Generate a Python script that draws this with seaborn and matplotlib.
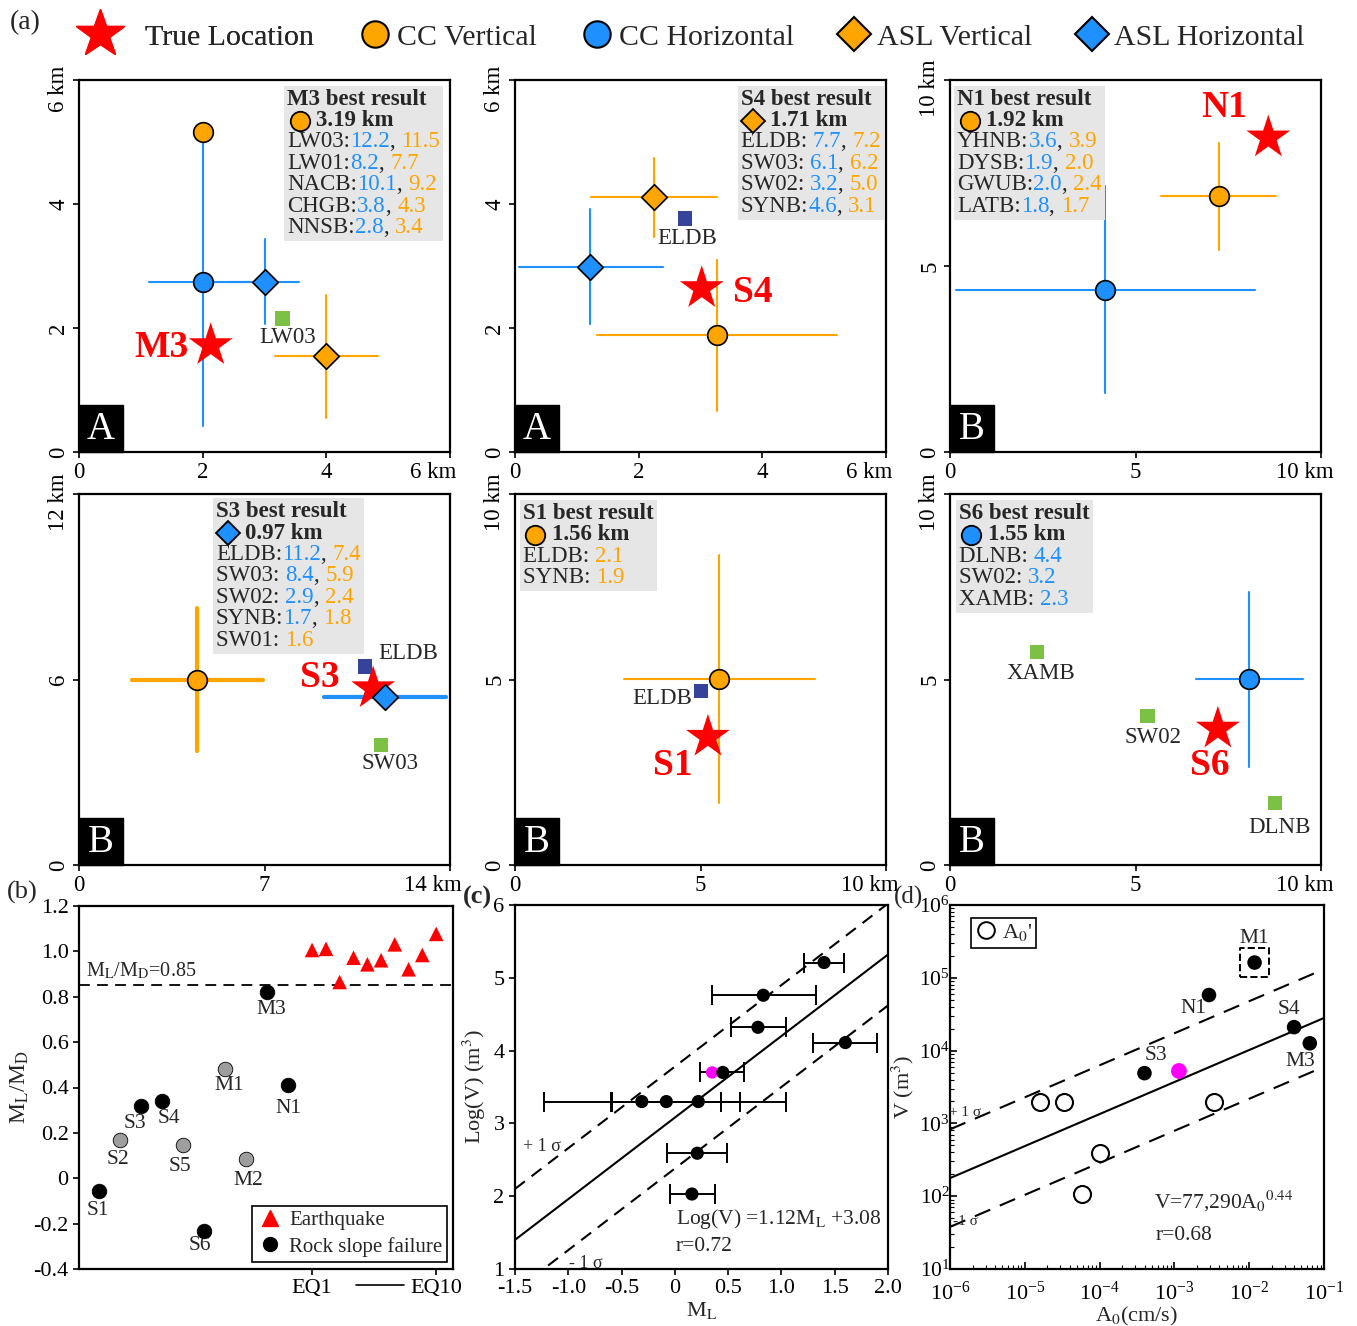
import numpy as np
import matplotlib
matplotlib.use('Agg')
import matplotlib.pyplot as plt
import matplotlib.transforms as mtransforms
import seaborn as sns
from matplotlib.lines import Line2D
from matplotlib.patches import Rectangle
from matplotlib.offsetbox import TextArea, HPacker, VPacker, DrawingArea, AnchoredOffsetbox

# ---------------- data ----------------
ORANGE = '#ffa500'
BLUE = '#1e90ff'
RED = '#ff0000'
GREEN = '#7cc143'
NAVY = '#35449a'

METHODS = ['CC Vertical', 'CC Horizontal', 'ASL Vertical', 'ASL Horizontal']

# M3 panel (km)
m3_method = ['CC Vertical', 'CC Horizontal', 'ASL Vertical', 'ASL Horizontal']
m3_x = [2.0, 2.0, 4.0, 3.0]
m3_y = [5.16, 2.75, 1.55, 2.75]
m3_xlo = [np.nan, 1.13, 3.17, 2.45]
m3_xhi = [np.nan, 2.87, 4.83, 3.56]
m3_ylo = [np.nan, 0.42, 0.55, 2.06]
m3_yhi = [np.nan, 5.16, 2.54, 3.44]
m3_true = (2.13, 1.72)
m3_stations = [('LW03', 3.29, 2.15, 'g')]
m3_info = [('LW03:', '12.2', '11.5'), ('LW01:', '8.2', '7.7'), ('NACB:', '10.1', '9.2'),
           ('CHGB:', '3.8', '4.3'), ('NNSB:', '2.8', '3.4')]

# S4 panel
s4_method = ['CC Vertical', 'ASL Vertical', 'ASL Horizontal']
s4_x = [3.26, 2.24, 1.22]
s4_y = [1.88, 4.11, 2.99]
s4_xlo = [1.32, 1.23, 0.07]
s4_xhi = [5.20, 3.26, 2.39]
s4_ylo = [0.66, 3.47, 2.06]
s4_yhi = [3.10, 4.74, 3.92]
s4_true = (3.02, 2.64)
s4_stations = [('ELDB', 2.75, 3.77, 'b')]
s4_info = [('ELDB: ', '7.7', '7.2'), ('SW03: ', '6.1', '6.2'), ('SW02: ', '3.2', '5.0'),
           ('SYNB:', '4.6', '3.1')]

# N1 panel
n1_method = ['CC Vertical', 'CC Horizontal']
n1_x = [7.25, 4.19]
n1_y = [6.87, 4.36]
n1_xlo = [5.69, 0.16]
n1_xhi = [8.80, 8.22]
n1_ylo = [5.42, 1.59]
n1_yhi = [8.31, 7.14]
n1_true = (8.58, 8.45)
n1_stations = []
n1_info = [('YHNB:', '3.6', '3.9'), ('DYSB:', '1.9', '2.0'), ('GWUB:', '2.0', '2.4'),
           ('LATB:', '1.8', '1.7')]

# S3 panel
s3_method = ['CC Vertical', 'ASL Horizontal']
s3_x = [4.46, 11.56]
s3_y = [6.00, 5.44]
s3_xlo = [1.99, 9.25]
s3_xhi = [6.95, 13.86]
s3_ylo = [3.69, np.nan]
s3_yhi = [8.32, np.nan]
s3_true = (11.1, 5.71)
s3_stations = [('ELDB', 10.8, 6.42, 'b'), ('SW03', 11.4, 3.88, 'g')]
s3_info = [('ELDB:', '11.2', '7.4'), ('SW03: ', '8.4', '5.9'), ('SW02: ', '2.9', '2.4'),
           ('SYNB:', '1.7', '1.8'), ('SW01: ', None, '1.6')]

# S1 panel
s1_method = ['CC Vertical']
s1_x = [5.50]
s1_y = [5.01]
s1_xlo = [2.94]
s1_xhi = [8.09]
s1_ylo = [1.67]
s1_yhi = [8.36]
s1_true = (5.2, 3.45)
s1_stations = [('ELDB', 5.01, 4.69, 'b')]
s1_info = [('ELDB: ', None, '2.1'), ('SYNB: ', None, '1.9')]

# S6 panel
s6_method = ['CC Horizontal']
s6_x = [8.06]
s6_y = [5.01]
s6_xlo = [6.63]
s6_xhi = [9.51]
s6_ylo = [2.64]
s6_yhi = [7.36]
s6_true = (7.22, 3.67)
s6_stations = [('XAMB', 2.35, 5.74, 'g'), ('SW02', 5.33, 4.02, 'g'), ('DLNB', 8.76, 1.67, 'g')]
s6_info = [('DLNB: ', '4.4', None), ('SW02: ', '3.2', None), ('XAMB: ', '2.3', None)]

# (b) ML/MD ratio
b_names = ['S1', 'S2', 'S3', 'S4', 'S5', 'S6', 'M1', 'M2', 'M3', 'N1']
b_x = [1, 2, 3, 4, 5, 6, 7, 8, 9, 10]
b_ratio = [-0.055, 0.167, 0.32, 0.34, 0.145, -0.233, 0.48, 0.086, 0.823, 0.41]
b_gray = [False, True, False, False, True, False, True, True, False, False]
eq_x = [11.13, 11.79, 12.44, 13.10, 13.76, 14.41, 15.06, 15.72, 16.37, 17.03]
eq_ratio = [1.006, 1.011, 0.865, 0.972, 0.943, 0.961, 1.031, 0.921, 0.984, 1.077]
b_threshold = 0.85

# (c) ML vs log volume
c_ml = [1.40, 0.83, 0.78, 1.60, 0.45, -0.31, -0.08, 0.22, 0.21, 0.16]
c_logv = [5.21, 4.76, 4.32, 4.11, 3.70, 3.30, 3.30, 3.30, 2.59, 2.03]
c_ml_lo = [1.21, 0.35, 0.53, 1.30, 0.24, -1.225, -0.594, -0.60, -0.07, -0.05]
c_ml_hi = [1.59, 1.32, 1.04, 1.90, 0.65, 0.609, 0.431, 1.04, 0.49, 0.375]
c_new = (0.35, 3.70)
c_slope, c_icpt, c_sigma = 1.12, 3.08, 0.70
c_range = [-1.5, 2.0]

# (d) A0 vs volume
d_names = ['M1', 'N1', 'S4', 'M3', 'S3']
d_a0 = [0.0118, 2.9e-3, 0.0398, 0.0646, 3.98e-4]
d_v = [1.62e5, 5.8e4, 2.1e4, 1.26e4, 4.9e3]
d_a0_open = [1.62e-5, 3.3e-5, 3.4e-3, 1.0e-4, 5.9e-5]
d_v_open = [1950, 1950, 1950, 390, 107]
d_new = (1.15e-3, 5.25e3)
d_coef, d_exp, d_sigma = 77290, 0.44, 0.67
d_range = [1e-6, 1e-1]

# ---------------- style ----------------
sns.set_theme(style='ticks')
plt.rcParams['font.family'] = ['Liberation Serif', 'DejaVu Serif']
plt.rcParams['mathtext.fontset'] = 'stix'
plt.rcParams['axes.unicode_minus'] = False
plt.rcParams['axes.linewidth'] = 1.6
plt.rcParams['axes.edgecolor'] = 'black'
plt.rcParams['xtick.color'] = 'black'
plt.rcParams['ytick.color'] = 'black'

STYLE = {'CC Vertical': ('o', ORANGE), 'CC Horizontal': ('o', BLUE),
         'ASL Vertical': ('D', ORANGE), 'ASL Horizontal': ('D', BLUE)}
MSIZE = {'o': 200, 'D': 170}

fig = plt.figure(figsize=(13.57, 13.26), dpi=100)
W, H = 1357, 1326


def add_ax(l, t, w, h):
    return fig.add_axes([l / W, 1 - (t + h) / H, w / W, h / H])


def info_box(ax, title, method, dist, rows, loc, anchor):
    fs = 16.5
    mk, col = STYLE[method]
    da = DrawingArea(18, 15, 0, 0)
    da.add_artist(Line2D([9], [7.5], marker=mk, ms=14 if mk == 'o' else 12.5, mfc=col,
                         mec='black', mew=1.3, ls='none'))
    head = HPacker(children=[da, TextArea(dist, textprops=dict(fontsize=fs, fontweight='bold'))],
                   sep=3, align='center', pad=0)
    lines = [TextArea(title, textprops=dict(fontsize=fs, fontweight='bold')), head]
    for name, vb, vo in rows:
        parts = [TextArea(name, textprops=dict(fontsize=fs))]
        if vb is not None:
            parts.append(TextArea(vb, textprops=dict(fontsize=fs, color=BLUE)))
        if vb is not None and vo is not None:
            parts.append(TextArea(', ', textprops=dict(fontsize=fs)))
        if vo is not None:
            parts.append(TextArea(vo, textprops=dict(fontsize=fs, color=ORANGE)))
        lines.append(HPacker(children=parts, sep=0, align='baseline', pad=0))
    box = AnchoredOffsetbox(loc=loc, child=VPacker(children=lines, sep=0.3, align='left', pad=0),
                            pad=0.2, borderpad=0, frameon=True, bbox_to_anchor=anchor,
                            bbox_transform=ax.transAxes)
    box.patch.set_facecolor('#e6e6e6')
    box.patch.set_edgecolor('none')
    box.patch.set_boxstyle('square', pad=0)
    box.set_zorder(6)
    ax.add_artist(box)


def loc_panel(ax, xmax, ymax, xt, yt, methods, xs, ys, xlo, xhi, ylo, yhi, true, name,
              name_xy, stations, st_lab, letter, err_lw=1.5):
    for m, x, y, a, b, c, d in zip(methods, xs, ys, xlo, xhi, ylo, yhi):
        mk, col = STYLE[m]
        if not np.isnan(a):
            ax.plot([a, b], [y, y], color=col, lw=err_lw, zorder=2)
        if not np.isnan(c):
            ax.plot([x, x], [c, d], color=col, lw=err_lw, zorder=2)
    for (lab, sx, sy, kind), (lx, ly) in zip(stations, st_lab):
        sns.scatterplot(x=[sx], y=[sy], marker='s', s=110, color=GREEN if kind == 'g' else NAVY,
                        edgecolor='none', ax=ax, zorder=3)
        ax.text(lx, ly, lab, fontsize=16.5, ha='center', va='center', zorder=3)
    sns.scatterplot(x=[true[0]], y=[true[1]], marker='*', s=1100, color=RED, edgecolor='none',
                    ax=ax, zorder=4)
    ax.text(name_xy[0], name_xy[1], name, color=RED, fontsize=27, fontweight='bold',
            ha='center', va='center', zorder=4)
    for m, x, y in zip(methods, xs, ys):
        mk, col = STYLE[m]
        sns.scatterplot(x=[x], y=[y], marker=mk, s=MSIZE[mk], color=col, edgecolor='black',
                        linewidth=1.2, ax=ax, zorder=5)
    ax.set_xlim(0, xmax)
    ax.set_ylim(0, ymax)
    ax.set_xticks(xt)
    ax.set_xticklabels([str(v) for v in xt[:-1]] + ['%d km' % xt[-1]], fontsize=16.5)
    ax.set_yticks(yt)
    ax.set_yticklabels([str(v) for v in yt[:-1]] + ['%d km' % yt[-1]], fontsize=16.5,
                       rotation=90, va='center')
    ax.tick_params(length=4, width=1.2, pad=3)
    # the "km" labels sit a little inside the axis end
    lab = ax.get_xticklabels()[-1]
    lab.set_transform(lab.get_transform() +
                      mtransforms.ScaledTranslation(-12 / 72, 0, fig.dpi_scale_trans))
    lab = ax.get_yticklabels()[-1]
    lab.set_transform(lab.get_transform() +
                      mtransforms.ScaledTranslation(0, -6 / 72, fig.dpi_scale_trans))
    ax.set_xlabel('')
    ax.set_ylabel('')
    ax.add_patch(Rectangle((0, 0), 0.119, 0.127, transform=ax.transAxes, color='black',
                           zorder=7, clip_on=False))
    ax.text(0.0595, 0.061, letter, transform=ax.transAxes, color='white', fontsize=28,
            ha='center', va='center', zorder=8)


# ---------- (a) location panels ----------
ax1 = add_ax(79, 80, 371, 372)
loc_panel(ax1, 6, 6, [0, 2, 4, 6], [0, 2, 4, 6], m3_method, m3_x, m3_y, m3_xlo, m3_xhi,
          m3_ylo, m3_yhi, m3_true, 'M3', (1.33, 1.68), m3_stations, [(3.38, 1.85)], 'A')
info_box(ax1, 'M3 best result', 'CC Vertical', '3.19 km', m3_info, 'upper right', (0.982, 0.985))

ax2 = add_ax(515, 80, 371, 372)
loc_panel(ax2, 6, 6, [0, 2, 4, 6], [0, 2, 4, 6], s4_method, s4_x, s4_y, s4_xlo, s4_xhi,
          s4_ylo, s4_yhi, s4_true, 'S4', (3.85, 2.58), s4_stations, [(2.78, 3.45)], 'A')
info_box(ax2, 'S4 best result', 'ASL Vertical', '1.71 km', s4_info, 'upper right', (0.995, 0.985))

ax3 = add_ax(950, 80, 371, 372)
loc_panel(ax3, 10, 10, [0, 5, 10], [0, 5, 10], n1_method, n1_x, n1_y, n1_xlo, n1_xhi,
          n1_ylo, n1_yhi, n1_true, 'N1', (7.39, 9.25), n1_stations, [], 'B')
info_box(ax3, 'N1 best result', 'CC Vertical', '1.92 km', n1_info, 'upper left', (0.011, 0.985))

ax4 = add_ax(79, 494, 371, 371)
loc_panel(ax4, 14, 12, [0, 7, 14], [0, 6, 12], s3_method, s3_x, s3_y, s3_xlo, s3_xhi,
          s3_ylo, s3_yhi, s3_true, 'S3', (9.09, 6.05), s3_stations, [(12.42, 6.83), (11.74, 3.27)],
          'B', err_lw=3)
info_box(ax4, 'S3 best result', 'ASL Horizontal', '0.97 km', s3_info, 'upper left', (0.361, 0.989))

ax5 = add_ax(515, 494, 371, 371)
loc_panel(ax5, 10, 10, [0, 5, 10], [0, 5, 10], s1_method, s1_x, s1_y, s1_xlo, s1_xhi,
          s1_ylo, s1_yhi, s1_true, 'S1', (4.26, 2.67), s1_stations, [(3.96, 4.5)], 'B')
info_box(ax5, 'S1 best result', 'CC Vertical', '1.56 km', s1_info, 'upper left', (0.013, 0.984))

ax6 = add_ax(950, 494, 371, 371)
loc_panel(ax6, 10, 10, [0, 5, 10], [0, 5, 10], s6_method, s6_x, s6_y, s6_xlo, s6_xhi,
          s6_ylo, s6_yhi, s6_true, 'S6', (7.01, 2.67), s6_stations,
          [(2.45, 5.17), (5.47, 3.45), (8.89, 1.02)], 'B')
info_box(ax6, 'S6 best result', 'CC Horizontal', '1.55 km', s6_info, 'upper left', (0.016, 0.984))

# top legend: star entry, then the four methods on the same line
star_leg = fig.legend([Line2D([], [], marker='*', ms=36, color=RED, ls='none')], ['True Location'],
                      loc='center left', bbox_to_anchor=(76 / W, 0.972), frameon=False,
                      fontsize=21.5, handletextpad=0.7, handlelength=1.6, borderpad=0,
                      borderaxespad=0)
fig.add_artist(star_leg)
handles = []
for m in METHODS:
    mk, col = STYLE[m]
    handles.append(Line2D([], [], marker=mk, ms=19 if mk == 'o' else 17, mfc=col, mec='black',
                          mew=1.5, ls='none'))
fig.legend(handles, METHODS, loc='center left', bbox_to_anchor=(360 / W, 0.972),
           ncol=4, frameon=False, fontsize=21.5, handletextpad=0.25, columnspacing=1.5,
           handlelength=1.0, borderpad=0, borderaxespad=0)
fig.text(0.007, 0.983, '(a)', fontsize=20, va='center')

# ---------- (b) ML/MD ----------
axb = add_ax(79, 906, 374, 363)
b_label_off = [(-1, -14), (-1.5, -14), (-4.5, -12.5), (5, -12.5), (-2.5, -15.5), (-3, -10.5),
               (3, -11.5), (1.5, -15.5), (3, -13), (0, -17)]
for x, r, g, n, off in zip(b_x, b_ratio, b_gray, b_names, b_label_off):
    sns.scatterplot(x=[x], y=[r], s=110, color='#9e9e9e' if g else 'black', edgecolor='black',
                    linewidth=0.6, ax=axb, zorder=4)
    axb.annotate(n, (x, r), xytext=off, textcoords='offset points', fontsize=15.5,
                 ha='center', va='center')
sns.scatterplot(x=eq_x, y=eq_ratio, marker='^', s=110, color=RED, edgecolor='none', ax=axb, zorder=4)
axb.axhline(b_threshold, color='black', lw=1.3, ls=(0, (6, 4)), zorder=2)
axb.text(0.4, 0.915, 'M$_\\mathrm{L}$/M$_\\mathrm{D}$=0.85', fontsize=14.5, va='center')
axb.set_xlim(0.048, 17.83)
axb.set_ylim(-0.4, 1.2)
axb.set_yticks([-0.4, -0.2, 0, 0.2, 0.4, 0.6, 0.8, 1.0, 1.2])
axb.set_yticklabels(['-0.4', '-0.2', '0', '0.2', '0.4', '0.6', '0.8', '1.0', '1.2'], fontsize=16)
axb.set_xticks([eq_x[0], eq_x[-1]])
axb.set_xticklabels(['EQ1', 'EQ10'], fontsize=16)
axb.plot([13.2, 15.5], [-0.045, -0.045], color='black', lw=1.2, clip_on=False,
         transform=axb.get_xaxis_transform())
axb.set_ylabel('M$_\\mathrm{L}$/M$_\\mathrm{D}$', fontsize=17, labelpad=2)
axb.set_xlabel('')
axb.tick_params(length=4, width=1.2)
leg_b = axb.legend([Line2D([], [], marker='^', ms=11, color=RED, ls='none'),
                    Line2D([], [], marker='o', ms=10, color='black', ls='none')],
                   ['Earthquake', 'Rock slope failure'], loc='lower right',
                   bbox_to_anchor=(0.985, 0.02), fontsize=15, frameon=True, fancybox=False,
                   edgecolor='black', framealpha=1, handletextpad=0.3, borderpad=0.25,
                   labelspacing=0.3, handlelength=1.2, borderaxespad=0)
leg_b.get_frame().set_linewidth(1.2)
fig.text(0.005, 0.3266, '(b)', fontsize=19, va='center')

# ---------- (c) ML vs LogV ----------
axc = add_ax(515, 905, 373, 364)
axc.errorbar(c_ml, c_logv, xerr=[np.array(c_ml) - np.array(c_ml_lo),
                                  np.array(c_ml_hi) - np.array(c_ml)],
             fmt='none', ecolor='black', elinewidth=1.4, capsize=7, capthick=1.4, zorder=3)
sns.scatterplot(x=c_ml, y=c_logv, s=90, color='black', edgecolor='none', ax=axc, zorder=4)
sns.scatterplot(x=[c_new[0]], y=[c_new[1]], s=80, color='#ff00ff', edgecolor='none', ax=axc, zorder=3)
cx = np.array(c_range)
sns.lineplot(x=cx, y=c_slope * cx + c_icpt, color='black', lw=1.5, ax=axc, zorder=2)
for sgn in (1, -1):
    axc.plot(cx, c_slope * cx + c_icpt + sgn * c_sigma, color='black', lw=1.5,
             ls=(0, (6, 4)), zorder=2)
axc.text(-1.25, 2.68, '+ 1 σ', fontsize=13, ha='center', va='center')
axc.text(-0.84, 1.08, '- 1 σ', fontsize=13, ha='center', va='center')
axc.text(0.01, 1.68, 'Log(V) =1.12M$_\\mathrm{L}$ +3.08', fontsize=15.5, va='center')
axc.text(0.01, 1.31, 'r=0.72', fontsize=15.5, va='center')
axc.set_xlim(-1.5, 2.0)
axc.set_ylim(1, 6)
axc.set_xticks([-1.5, -1.0, -0.5, 0, 0.5, 1.0, 1.5, 2.0])
axc.set_xticklabels(['-1.5', '-1.0', '-0.5', '0', '0.5', '1.0', '1.5', '2.0'], fontsize=16)
axc.set_yticks([1, 2, 3, 4, 5, 6])
axc.set_yticklabels(['1', '2', '3', '4', '5', '6'], fontsize=16)
axc.set_xlabel('M$_\\mathrm{L}$', fontsize=16, labelpad=1)
axc.set_ylabel('Log(V) (m$^3$)', fontsize=16, labelpad=4)
axc.tick_params(length=4, width=1.2)
fig.text(0.341, 0.3235, '(c)', fontsize=19, va='center', fontweight='bold')

# ---------- (d) A0 vs V ----------
axd = add_ax(950, 905, 374, 364)
axd.set_xscale('log')
axd.set_yscale('log')
dx = np.array(d_range)
dv = d_coef * dx ** d_exp
sns.lineplot(x=dx, y=dv, color='black', lw=1.5, ax=axd, zorder=2)
for sgn in (1, -1):
    axd.plot(dx, dv * 10 ** (sgn * d_sigma), color='black', lw=1.5, ls=(0, (8, 5)), zorder=2)
sns.scatterplot(x=d_a0_open, y=d_v_open, s=150, facecolor='white', edgecolor='black',
                linewidth=1.5, ax=axd, zorder=4)
sns.scatterplot(x=d_a0, y=d_v, s=110, color='black', edgecolor='none', ax=axd, zorder=4)
sns.scatterplot(x=[d_new[0]], y=[d_new[1]], s=130, color='#ff00ff', edgecolor='none', ax=axd, zorder=4)
axd.scatter([d_a0[0]], [d_v[0]], marker='s', s=420, facecolors='none', edgecolors='black',
            linewidths=1.4, linestyles='--', zorder=4)
d_label_off = [(0, 17), (-11, -10), (-4, 12.5), (-7, -13), (8, 13)]
for n, a, v, off in zip(d_names, d_a0, d_v, d_label_off):
    axd.annotate(n, (a, v), xytext=off, textcoords='offset points', fontsize=15.5,
                 ha='center', va='center')
axd.text(1.0e-6 * 10 ** 0.2, 10 ** 3.15, '+ 1 σ', fontsize=11, ha='center', va='center')
axd.text(1.0e-6 * 10 ** 0.2, 10 ** 1.65, '-1 σ', fontsize=11, ha='center', va='center')
axd.text(10 ** -3.27, 10 ** 1.93, 'V=77,290A$_\\mathrm{0}$$^{0.44}$', fontsize=15.5, va='center')
axd.text(10 ** -3.25, 10 ** 1.46, 'r=0.68', fontsize=15.5, va='center')
axd.set_xlim(1e-6, 1e-1)
axd.set_ylim(1e1, 1e6)
axd.tick_params(which='major', length=5, width=1.2, labelsize=16, direction='in')
axd.tick_params(axis='y', which='major', pad=0, labelsize=15.5)
axd.tick_params(axis='x', which='major', pad=9)
axd.tick_params(which='minor', length=3, width=0.8, direction='in')
axd.set_xlabel('A$_\\mathrm{0}$(cm/s)', fontsize=16, labelpad=0)
axd.set_ylabel('V (m$^3$)', fontsize=16, labelpad=2)
leg_d = axd.legend([Line2D([], [], marker='o', ms=12, mfc='white', mec='black', mew=1.4, ls='none')],
                   ["A$_\\mathrm{0}$'"], loc='upper left', bbox_to_anchor=(0.055, 0.965),
                   fontsize=16, frameon=True, fancybox=False, edgecolor='black', framealpha=1,
                   handletextpad=0.2, borderpad=0.2, handlelength=1.0, borderaxespad=0)
leg_d.get_frame().set_linewidth(1.2)
fig.text(0.6585, 0.3235, '(d)', fontsize=18, va='center')

fig.savefig('out.png', dpi=100)
